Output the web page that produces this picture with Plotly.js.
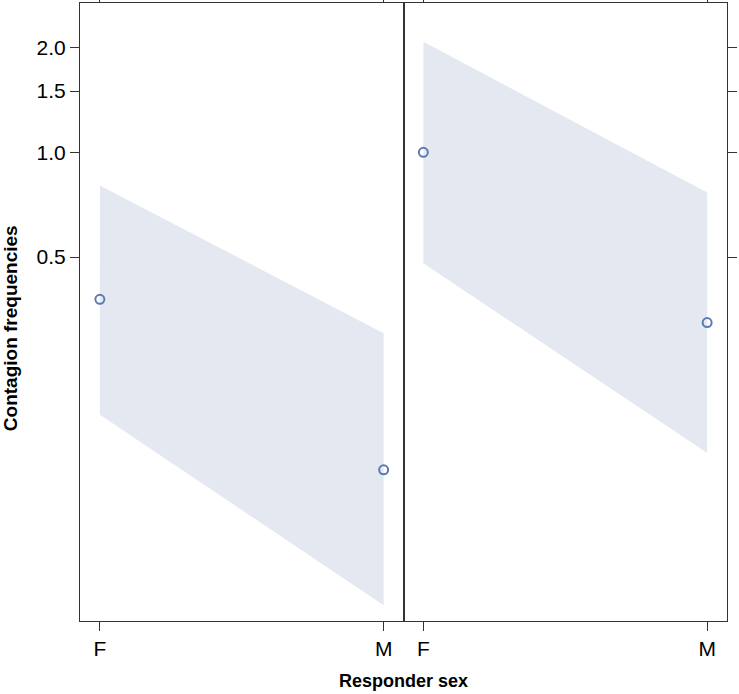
<!DOCTYPE html>
<html>
<head>
<meta charset="utf-8">
<script src="https://cdn.plot.ly/plotly-3.0.1.min.js"></script>
<style>html,body{margin:0;padding:0;background:#fff;}</style>
</head>
<body>
<div id="chart" style="width:739px;height:694px;"></div>
<script>
// Data
var categories = ['F', 'M'];
var panel1Fit = [0.378, 0.1223];
var panel1Lower = [0.176, 0.0499];
var panel1Upper = [0.803, 0.302];
var panel2Fit = [1.0, 0.324];
var panel2Lower = [0.4796, 0.1368];
var panel2Upper = [2.077, 0.766];
var yTickVals = [0.5, 1.0, 1.5, 2.0];
var yTickText = ['0.5', '1.0', '1.5', '2.0'];

var bandColor = 'rgb(228,233,241)';
var pointColor = 'rgb(91,122,181)';
var lineColor = '#333333';
var font = '"Liberation Sans", Arial, Helvetica, sans-serif';

function band(lower, upper, xa, ya) {
  return {
    x: [categories[0], categories[1], categories[1], categories[0]],
    y: [upper[0], upper[1], lower[1], lower[0]],
    xaxis: xa, yaxis: ya,
    type: 'scatter', mode: 'lines', fill: 'toself',
    fillcolor: bandColor, line: {width: 0, color: bandColor},
    hoverinfo: 'skip', showlegend: false
  };
}
function pts(fit, xa, ya) {
  return {
    x: categories, y: fit, xaxis: xa, yaxis: ya,
    type: 'scatter', mode: 'markers',
    marker: {symbol: 'circle-open', size: 9, color: pointColor, line: {width: 2, color: pointColor}},
    showlegend: false
  };
}

var data = [
  band(panel1Lower, panel1Upper, 'x', 'y'),
  pts(panel1Fit, 'x', 'y'),
  band(panel2Lower, panel2Upper, 'x2', 'y2'),
  pts(panel2Fit, 'x2', 'y2')
];

var yRange = [-1.347, 0.429];
var xRange = [-0.07, 1.07];

function xAxis(domain, anchor) {
  return {
    domain: domain, anchor: anchor, type: 'category',
    categoryorder: 'array', categoryarray: categories,
    range: xRange, showgrid: false, zeroline: false,
    showline: true, linecolor: lineColor, linewidth: 1,
    mirror: 'allticks', ticks: 'outside', ticklen: 9, tickwidth: 1, tickcolor: lineColor,
    tickfont: {family: font, size: 21, color: '#000'}, fixedrange: true
  };
}

var layout = {
  width: 739, height: 694,
  margin: {l: 80, r: 12, t: 3, b: 73},
  paper_bgcolor: '#fff', plot_bgcolor: '#fff',
  showlegend: false,
  xaxis: xAxis([0, 0.5], 'y'),
  xaxis2: xAxis([0.5, 1], 'y2'),
  yaxis: {
    type: 'log', range: yRange, anchor: 'x', side: 'left',
    tickmode: 'array', tickvals: yTickVals, ticktext: yTickText,
    showgrid: false, zeroline: false, showline: true, linecolor: lineColor, linewidth: 1,
    mirror: true, ticks: 'outside', ticklen: 9, tickwidth: 1, tickcolor: lineColor,
    tickfont: {family: font, size: 21, color: '#000'},
    automargin: false
  },
  yaxis2: {
    type: 'log', range: yRange, anchor: 'x2', side: 'right',
    tickmode: 'array', tickvals: yTickVals, ticktext: yTickText,
    showticklabels: false,
    showgrid: false, zeroline: false, showline: true, linecolor: lineColor, linewidth: 1,
    mirror: true, ticks: 'outside', ticklen: 9, tickwidth: 1, tickcolor: lineColor
  },
  annotations: [{
    text: '<b>Responder sex</b>', xref: 'paper', yref: 'paper',
    x: 0.5, y: -0.097, xanchor: 'center', yanchor: 'middle', showarrow: false,
    font: {family: font, size: 18, color: '#000'}
  }, {
    text: '<b>Contagion frequencies</b>', xref: 'paper', yref: 'paper',
    x: -0.108, y: 0.474, xanchor: 'center', yanchor: 'middle', showarrow: false,
    textangle: -90,
    font: {family: font, size: 19, color: '#000'}
  }]
};

Plotly.newPlot('chart', data, layout, {displayModeBar: false, staticPlot: true});
</script>
</body>
</html>
